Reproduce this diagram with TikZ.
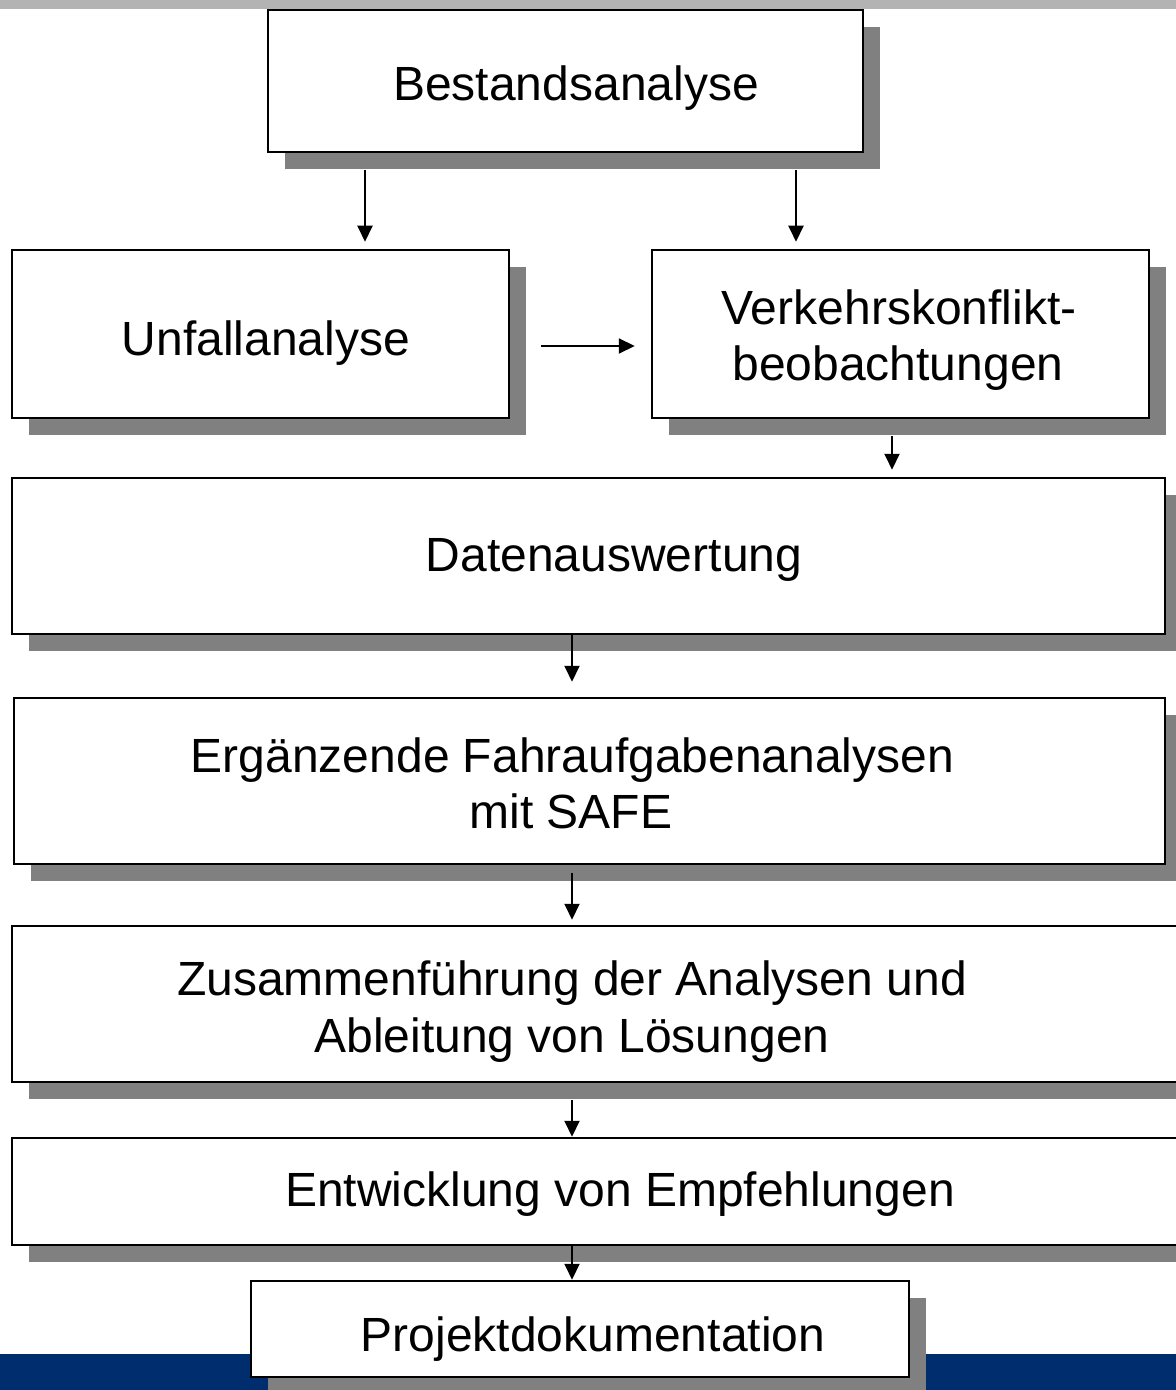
\documentclass[tikz,border=0pt]{standalone}
\usepackage{fontspec}
\setmainfont{Liberation Sans}
\usetikzlibrary{arrows.meta,shadows}
\definecolor{topbar}{HTML}{B3B3B3}
\definecolor{bluebar}{HTML}{002D6E}
\definecolor{shadowgray}{HTML}{808080}
\tikzset{
  stepbox/.style={draw=black, line width=1.25pt, fill=white, rectangle, inner sep=0pt,
    drop shadow={shadow xshift=8.5pt, shadow yshift=-8.5pt, fill=shadowgray, opacity=1}},
  txt/.style={anchor=base, inner sep=0pt, font=\fontsize{24pt}{28.35pt}\selectfont},
  arr/.style={line width=1pt, -{Triangle[length=8pt,width=7.5pt]}}
}
\begin{document}
\begin{tikzpicture}[x=0.5pt,y=-0.5pt]
\useasboundingbox (0,0) rectangle (1176,1390);
\clip (0,0) rectangle (1176,1390);
\fill[white] (0,0) rectangle (1176,1390);
\fill[topbar] (0,0) rectangle (1176,9);
\fill[bluebar] (0,1354) rectangle (1176,1390);

\node[stepbox, minimum width=297.5pt, minimum height=71pt] (best) at (565.5,81) {};
\node[stepbox, minimum width=248.5pt, minimum height=84pt] (unf) at (260.5,334) {};
\node[stepbox, minimum width=248.5pt, minimum height=84pt] (verk) at (900.5,334) {};
\node[stepbox, minimum width=576.5pt, minimum height=78pt] (dat) at (588.5,556) {};
\node[stepbox, minimum width=575.5pt, minimum height=83pt] (erg) at (589.5,781) {};
\node[stepbox, minimum width=594pt, minimum height=78pt] (zus) at (606,1004) {};
\node[stepbox, minimum width=594pt, minimum height=53.5pt] (ent) at (606,1191.5) {};
\node[stepbox, minimum width=329pt, minimum height=48pt] (proj) at (580,1329) {};

\node[txt] (tbest) at (576,101) {Bestandsanalyse};
\node[txt] (tunf) at (266,355) {Unfallanalyse};
\node[txt] (tverk1) at (899,324) {Verkehrskonflikt-};
\node[txt] (tverk2) at (898,380) {beobachtungen};
\node[txt] (tdat) at (614,571) {Datenauswertung};
\node[txt] (terg1) at (572.5,772) {Ergänzende Fahraufgabenanalysen};
\node[txt] (terg2) at (571,828) {mit SAFE};
\node[txt] (tzus1) at (572,995) {Zusammenführung der Analysen und};
\node[txt] (tzus2) at (572,1052) {Ableitung von Lösungen};
\node[txt] (tent) at (620,1206) {Entwicklung von Empfehlungen};
\node[txt] (tproj) at (593,1351) {Projektdokumentation};

\draw[arr, shorten <=8.5pt, shorten >=3.5pt] ([xshift=-100.25pt]best.south) -- ([xshift=-100.25pt]best.south |- unf.north);
\draw[arr, shorten <=8.5pt, shorten >=3.5pt] ([xshift=115.25pt]best.south) -- ([xshift=115.25pt]best.south |- verk.north);
\draw[arr, shorten <=15.5pt, shorten >=8pt] ([yshift=-6pt]unf.east) -- ([yshift=-6pt]verk.west);
\draw[arr, shorten <=8.5pt, shorten >=3.5pt] ([xshift=-4.25pt]verk.south) -- ([xshift=-4.25pt]verk.south |- dat.north);
\draw[arr, shorten >=7.5pt] ([xshift=-8.25pt]dat.south) -- ([xshift=-8.25pt]dat.south |- erg.north);
\draw[arr, shorten <=4pt, shorten >=2.5pt] ([xshift=-8.75pt]erg.south) -- ([xshift=-8.75pt]erg.south |- zus.north);
\draw[arr, shorten <=8.5pt] ([xshift=-17pt]zus.south) -- ([xshift=-17pt]zus.south |- ent.north);
\draw[arr] ([xshift=-17pt]ent.south) -- ([xshift=-17pt]ent.south |- proj.north);
\end{tikzpicture}
\end{document}
